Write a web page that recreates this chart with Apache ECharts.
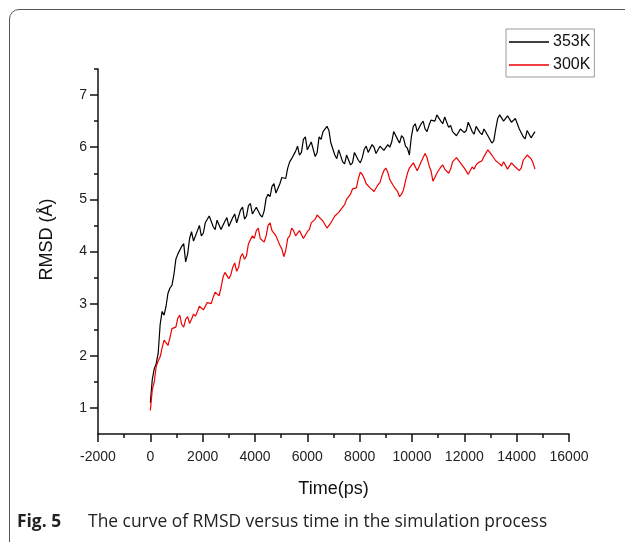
<!DOCTYPE html>
<html>
<head>
<meta charset="utf-8">
<script src="https://cdn.jsdelivr.net/npm/echarts@6/dist/echarts.min.js"></script>
<style>
  html, body { margin: 0; padding: 0; background: #fff; overflow: hidden; }
  #frame { position: absolute; left: 9px; top: 9px; width: 700px; height: 600px;
           border: 1.5px solid #555; border-radius: 10px; }
  #chartData { position: absolute; left: 0; top: 0; width: 625px; height: 542px; }
</style>
</head>
<body>
<div id="frame"></div>
<div id="chartData"></div>
<script>
// time points (ps)
var times = [
  0,75,150,225,300,375,450,525,600,675,
  750,825,900,975,1050,1125,1200,1275,1350,1425,
  1500,1575,1650,1725,1800,1875,1950,2025,2100,2175,
  2250,2325,2400,2475,2550,2625,2700,2775,2850,2925,
  3000,3075,3150,3225,3300,3375,3450,3525,3600,3675,
  3750,3825,3900,3975,4050,4125,4200,4275,4350,4425,
  4500,4575,4650,4725,4800,4875,4950,5025,5100,5175,
  5250,5325,5400,5475,5550,5625,5700,5775,5850,5925,
  6000,6075,6150,6225,6300,6375,6450,6525,6600,6675,
  6750,6825,6900,6975,7050,7125,7200,7275,7350,7425,
  7500,7575,7650,7725,7800,7875,7950,8025,8100,8175,
  8250,8325,8400,8475,8550,8625,8700,8775,8850,8925,
  9000,9075,9150,9225,9300,9375,9450,9525,9600,9675,
  9750,9825,9900,9975,10050,10125,10200,10275,10350,10425,
  10500,10575,10650,10725,10800,10875,10950,11025,11100,11175,
  11250,11325,11400,11475,11550,11625,11700,11775,11850,11925,
  12000,12075,12150,12225,12300,12375,12450,12525,12600,12675,
  12750,12825,12900,12975,13050,13125,13200,13275,13350,13425,
  13500,13575,13650,13725,13800,13875,13950,14025,14100,14175,
  14250,14325,14400,14475,14550,14625,14700
];

// RMSD at 353K
var rmsd353 = [
  1.10,1.55,1.75,1.85,2.05,2.60,2.85,2.78,2.95,3.20,
  3.30,3.35,3.55,3.85,3.95,3.92,4.10,4.15,3.80,3.95,
  4.25,4.38,4.20,4.22,4.40,4.50,4.30,4.35,4.55,4.52,
  4.68,4.70,4.48,4.42,4.60,4.62,4.42,4.40,4.58,4.65,
  4.48,4.45,4.65,4.72,4.55,4.58,4.80,4.85,4.62,4.68,
  4.88,4.92,4.72,4.70,4.85,4.88,4.70,4.66,4.78,5.02,
  5.10,5.05,5.25,5.30,5.12,5.10,5.30,5.42,5.45,5.40,
  5.60,5.72,5.78,5.75,5.92,6.02,5.85,5.90,6.15,6.20,
  5.95,5.92,6.10,6.12,5.82,5.90,6.20,6.15,6.30,6.28,
  6.40,6.32,6.08,6.05,5.85,5.78,5.95,5.92,5.72,5.68,
  5.85,5.84,5.66,5.70,5.90,5.92,5.75,5.70,5.80,5.96,
  6.02,5.90,5.88,6.05,6.00,5.88,5.90,6.02,6.05,5.94,
  5.92,6.05,6.00,6.10,6.30,6.32,6.15,6.08,6.22,6.18,
  6.02,5.98,5.85,6.20,6.40,6.45,6.30,6.28,6.45,6.50,
  6.35,6.30,6.42,6.52,6.55,6.50,6.62,6.65,6.50,6.45,
  6.58,6.55,6.38,6.42,6.30,6.32,6.22,6.20,6.35,6.38,
  6.28,6.32,6.48,6.50,6.30,6.25,6.40,6.42,6.28,6.24,
  6.35,6.38,6.22,6.20,6.08,6.12,6.35,6.55,6.62,6.60,
  6.50,6.48,6.60,6.62,6.48,6.45,6.55,6.52,6.35,6.32,
  6.20,6.16,6.32,6.35,6.18,6.15,6.30
];

// RMSD at 300K
var rmsd300 = [
  0.95,1.35,1.50,1.80,1.90,1.98,2.15,2.30,2.28,2.20,
  2.35,2.52,2.50,2.55,2.72,2.78,2.60,2.55,2.70,2.75,
  2.62,2.70,2.80,2.76,2.85,2.95,2.98,2.88,2.90,3.02,
  3.05,3.00,3.12,3.22,3.20,3.15,3.30,3.50,3.60,3.62,
  3.48,3.55,3.70,3.78,3.62,3.70,3.90,3.96,3.85,3.92,
  4.15,4.18,4.30,4.25,4.40,4.45,4.25,4.28,4.18,4.30,
  4.50,4.55,4.40,4.42,4.30,4.28,4.12,4.05,3.90,4.02,
  4.25,4.30,4.45,4.40,4.30,4.28,4.40,4.42,4.25,4.28,
  4.38,4.42,4.55,4.52,4.62,4.70,4.68,4.62,4.58,4.55,
  4.45,4.44,4.55,4.58,4.68,4.66,4.75,4.78,4.85,4.90,
  5.00,4.98,5.10,5.20,5.18,5.22,5.40,5.52,5.48,5.40,
  5.30,5.32,5.22,5.25,5.15,5.12,5.28,5.32,5.45,5.55,
  5.60,5.52,5.38,5.35,5.25,5.28,5.15,5.05,5.10,5.18,
  5.35,5.50,5.60,5.58,5.70,5.72,5.55,5.58,5.72,5.75,
  5.88,5.80,5.65,5.55,5.35,5.42,5.50,5.52,5.62,5.66,
  5.58,5.55,5.50,5.58,5.72,5.70,5.80,5.82,5.70,5.68,
  5.60,5.58,5.48,5.50,5.62,5.58,5.66,5.70,5.72,5.74,
  5.82,5.85,5.95,5.92,5.85,5.82,5.74,5.72,5.68,5.64,
  5.72,5.70,5.58,5.60,5.70,5.72,5.62,5.64,5.55,5.60,
  5.75,5.78,5.85,5.88,5.78,5.70,5.58
];

var yMajor = [1, 2, 3, 4, 5, 6, 7];
var yMinor = [1.5, 2.5, 3.5, 4.5, 5.5, 6.5, 7.5];

function pairs(vals) {
    return times.map(function (t, i) { return [t, vals[i]]; });
}

var myChart = echarts.init(document.getElementById('chartData'));

var axisFont = { fontFamily: 'Liberation Sans', fontSize: 14, color: '#222' };
var tickStyle = { color: '#111', width: 1.5 };

var option = {
    animation: false,
    title: {
        text: '{b|Fig. 5}The curve of RMSD versus time in the simulation process',
        left: 12,
        top: 509,
        textStyle: {
            fontFamily: 'Open Sans', fontSize: 17.4, fontWeight: 'normal', color: '#222',
            rich: { b: { fontFamily: 'Open Sans', fontSize: 17.4, fontWeight: 'bold', color: '#222', padding: [0, 27, 0, 0] } }
        }
    },
    legend: {
        orient: 'vertical',
        left: 506,
        top: 29,
        padding: [5, 4, 4, 3],
        itemGap: 7,
        itemWidth: 40,
        itemHeight: 1.5,
        icon: 'rect',
        borderColor: '#999',
        borderWidth: 1,
        textStyle: { fontFamily: 'Liberation Sans', fontSize: 16, color: '#111', padding: [0, 0, 0, -1] },
        data: ['353K', '300K']
    },
    grid: { left: 98, right: 56, top: 69, bottom: 108 },
    xAxis: {
        type: 'value',
        min: -2000,
        max: 16000,
        interval: 2000,
        name: 'Time(ps)',
        nameLocation: 'middle',
        nameGap: 46,
        nameTextStyle: { fontFamily: 'Liberation Sans', fontSize: 18, color: '#111' },
        axisLine: { onZero: false, lineStyle: tickStyle },
        axisTick: { length: 8, lineStyle: tickStyle },
        minorTick: { show: true, splitNumber: 2, length: 4, lineStyle: tickStyle },
        axisLabel: Object.assign({ margin: 16, formatter: function (v) { return String(v); } }, axisFont),
        splitLine: { show: false }
    },
    yAxis: [{
        type: 'value',
        min: 0.5,
        max: 7.5,
        name: 'RMSD (Å)',
        nameLocation: 'middle',
        nameGap: 42,
        nameTextStyle: { fontFamily: 'Liberation Sans', fontSize: 18, color: '#111', padding: [0, 0, 0, 24] },
        axisLine: { onZero: false, lineStyle: tickStyle },
        axisTick: { customValues: yMajor, length: 8, lineStyle: tickStyle },
        axisLabel: Object.assign({ customValues: yMajor, margin: 11 }, axisFont),
        splitLine: { show: false }
    }, {
        type: 'value',
        position: 'left',
        min: 0.5,
        max: 7.5,
        axisLine: { show: false, onZero: false },
        axisTick: { show: true, customValues: yMinor, length: 4, lineStyle: tickStyle },
        axisLabel: { show: false },
        splitLine: { show: false }
    }],
    series: [{
        name: '353K',
        type: 'line',
        showSymbol: false,
        color: '#000',
        lineStyle: { width: 1.2, color: '#000' },
        data: pairs(rmsd353)
    }, {
        name: '300K',
        type: 'line',
        showSymbol: false,
        color: '#e00',
        lineStyle: { width: 1.2, color: '#e00' },
        data: pairs(rmsd300)
    }]
};

myChart.setOption(option);
</script>
</body>
</html>
